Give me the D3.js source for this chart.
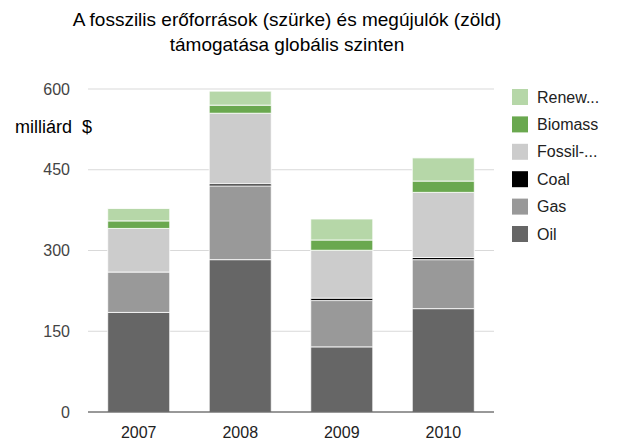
<!DOCTYPE html>
<html>
<head>
<meta charset="utf-8">
<script src="https://cdn.jsdelivr.net/npm/d3@7"></script>
<style>
  body { margin: 0; background: #fff; }
  text { font-family: Arial, "Liberation Sans", sans-serif; }
</style>
</head>
<body>
<div id="chart"></div>
<script>
const years = ["2007", "2008", "2009", "2010"];
const oil = [185, 283, 121, 192];
const gas = [75, 137, 86, 91];
const coal = [0, 4, 4.5, 4];
const fossilElec = [81, 131, 89, 121];
const biomass = [14, 15, 19, 21];
const renew = [23, 26, 39, 43];
const yTicks = [0, 150, 300, 450, 600];

const seriesNames = ["Oil", "Gas", "Coal", "Fossil-...", "Biomass", "Renew..."];
const seriesValues = [oil, gas, coal, fossilElec, biomass, renew];
const seriesColors = ["#666666", "#999999", "#000000", "#cccccc", "#6aa84f", "#b6d7a8"];

const outerWidth = 617;
const outerHeight = 441;

const svg = d3.select("#chart")
  .append("svg")
  .attr("width", outerWidth)
  .attr("height", outerHeight);

// rows for d3.stack
const rows = years.map((yr, i) => {
  const r = { year: yr };
  seriesNames.forEach((s, j) => { r[s] = seriesValues[j][i]; });
  return r;
});

const stacked = d3.stack().keys(seriesNames)(rows);

const x = d3.scaleBand()
  .domain(years)
  .range([88, 494])
  .paddingInner(0.389)
  .paddingOuter(0.194);

const y = d3.scaleLinear().domain([0, 600]).range([412, 89]);

const color = d3.scaleOrdinal().domain(seriesNames).range(seriesColors);

// Title
const title = svg.append("text")
  .attr("text-anchor", "middle")
  .attr("font-size", 19)
  .attr("fill", "#000");
title.append("tspan").attr("x", 287).attr("y", 25.5)
  .text("A fosszilis erőforrások (szürke) és megújulók (zöld)");
title.append("tspan").attr("x", 287).attr("y", 50.5)
  .text("támogatása globális szinten");

// Gridlines
svg.append("g")
  .selectAll("line")
  .data(yTicks.filter(d => d > 0))
  .join("line")
  .attr("x1", 88)
  .attr("x2", 494)
  .attr("y1", d => y(d))
  .attr("y2", d => y(d))
  .attr("stroke", "#d9d9d9")
  .attr("stroke-width", 1.2);

// Y tick labels
svg.append("g")
  .selectAll("text")
  .data(yTicks)
  .join("text")
  .attr("x", 70)
  .attr("y", d => y(d))
  .attr("dy", "0.35em")
  .attr("text-anchor", "end")
  .attr("font-size", 16)
  .attr("fill", "#444")
  .text(d => d);

// Unit label
svg.append("text")
  .attr("x", 15)
  .attr("y", 127)
  .attr("dy", "0.35em")
  .attr("font-size", 18)
  .attr("fill", "#000")
  .attr("xml:space", "preserve")
  .text("milliárd  $");

// Bars
svg.append("g")
  .selectAll("g")
  .data(stacked)
  .join("g")
  .attr("fill", d => color(d.key))
  .selectAll("rect")
  .data(d => d.filter(p => p[1] - p[0] > 0))
  .join("rect")
  .attr("x", d => x(d.data.year))
  .attr("width", x.bandwidth())
  .attr("y", d => y(d[1]))
  .attr("height", d => y(d[0]) - y(d[1]))
  .attr("stroke", "#fff")
  .attr("stroke-opacity", 0.8)
  .attr("stroke-width", 1);

// Baseline
svg.append("line")
  .attr("x1", 88)
  .attr("x2", 494)
  .attr("y1", y(0))
  .attr("y2", y(0))
  .attr("stroke", "#333")
  .attr("stroke-width", 1);

// X labels
svg.append("g")
  .selectAll("text")
  .data(years)
  .join("text")
  .attr("x", d => x(d) + x.bandwidth() / 2)
  .attr("y", 432)
  .attr("dy", "0.35em")
  .attr("text-anchor", "middle")
  .attr("font-size", 16)
  .attr("fill", "#222")
  .text(d => d);

// Legend (top-down: reverse stack order)
const legendItems = seriesNames.slice().reverse();
const legend = svg.append("g")
  .selectAll("g")
  .data(legendItems)
  .join("g")
  .attr("transform", (d, i) => `translate(512,${89 + i * 27.4})`);

legend.append("rect")
  .attr("width", 16)
  .attr("height", 16)
  .attr("fill", d => color(d));

legend.append("text")
  .attr("x", 25)
  .attr("y", 8)
  .attr("dy", "0.35em")
  .attr("font-size", 16)
  .attr("fill", "#222")
  .text(d => d);
</script>
</body>
</html>
